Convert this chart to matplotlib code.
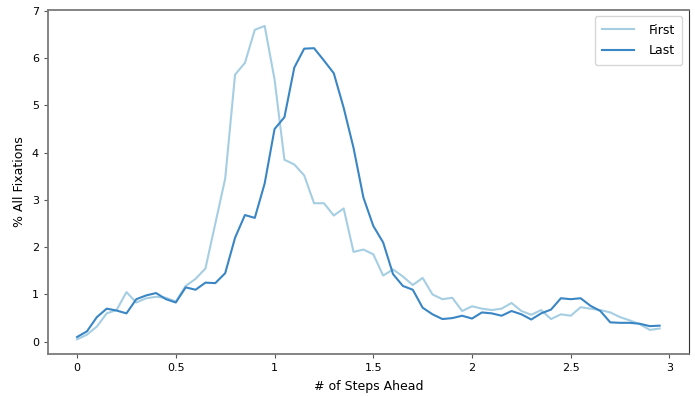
import numpy as np
import matplotlib
matplotlib.use("Agg")
import matplotlib.pyplot as plt

# steps ahead, 0 .. 2.95 in 0.05 bins
steps = np.round(np.arange(60) * 0.05, 2)

first = [0.05, 0.15, 0.32, 0.60, 0.67, 1.05, 0.83, 0.92, 0.95, 0.93,
         0.85, 1.18, 1.33, 1.55, 2.50, 3.45, 5.65, 5.90, 6.60, 6.68,
         5.55, 3.85, 3.75, 3.52, 2.93, 2.93, 2.67, 2.82, 1.90, 1.95,
         1.85, 1.40, 1.53, 1.38, 1.20, 1.35, 1.00, 0.90, 0.93, 0.65,
         0.75, 0.70, 0.67, 0.70, 0.82, 0.65, 0.57, 0.67, 0.48, 0.58,
         0.55, 0.73, 0.70, 0.67, 0.62, 0.52, 0.45, 0.37, 0.25, 0.28]

last = [0.10, 0.22, 0.52, 0.70, 0.66, 0.60, 0.90, 0.98, 1.03, 0.90,
        0.83, 1.15, 1.10, 1.25, 1.24, 1.45, 2.20, 2.68, 2.62, 3.35,
        4.50, 4.75, 5.80, 6.20, 6.21, 5.95, 5.68, 4.95, 4.10, 3.05,
        2.45, 2.10, 1.43, 1.18, 1.10, 0.72, 0.58, 0.48, 0.50, 0.55,
        0.49, 0.62, 0.60, 0.55, 0.65, 0.58, 0.47, 0.60, 0.68, 0.92,
        0.90, 0.92, 0.76, 0.65, 0.41, 0.40, 0.40, 0.38, 0.33, 0.34]

fig = plt.figure(figsize=(6.95, 3.96), dpi=100)
ax = fig.add_axes([0.069, 0.106, 0.922, 0.869])

ax.plot(steps, first, color="#a6cee3", lw=1.5, label="First")
ax.plot(steps, last, color="#3a86c4", lw=1.5, label="Last")

ax.set_xlim(-0.1475, 3.0975)
ax.set_ylim(-0.26, 7.02)
ax.set_xticks([0, 0.5, 1, 1.5, 2, 2.5, 3])
ax.set_xticklabels(["0", "0.5", "1", "1.5", "2", "2.5", "3"])
ax.set_yticks(range(8))
ax.tick_params(labelsize=8, length=3, color="#555555")

ax.set_xlabel("# of Steps Ahead", fontsize=9, labelpad=5)
ax.set_ylabel("% All Fixations", fontsize=9)

for side in ["left", "bottom", "top"]:
    ax.spines[side].set_color("#7a7a7a")
    ax.spines[side].set_linewidth(1.3)
ax.spines["right"].set_color("#333333")

ax.legend(loc="upper right", fontsize=9, handlelength=2.5, borderpad=0.6,
          labelspacing=0.6, handletextpad=1.2)

fig.savefig("out.png", dpi=100)
